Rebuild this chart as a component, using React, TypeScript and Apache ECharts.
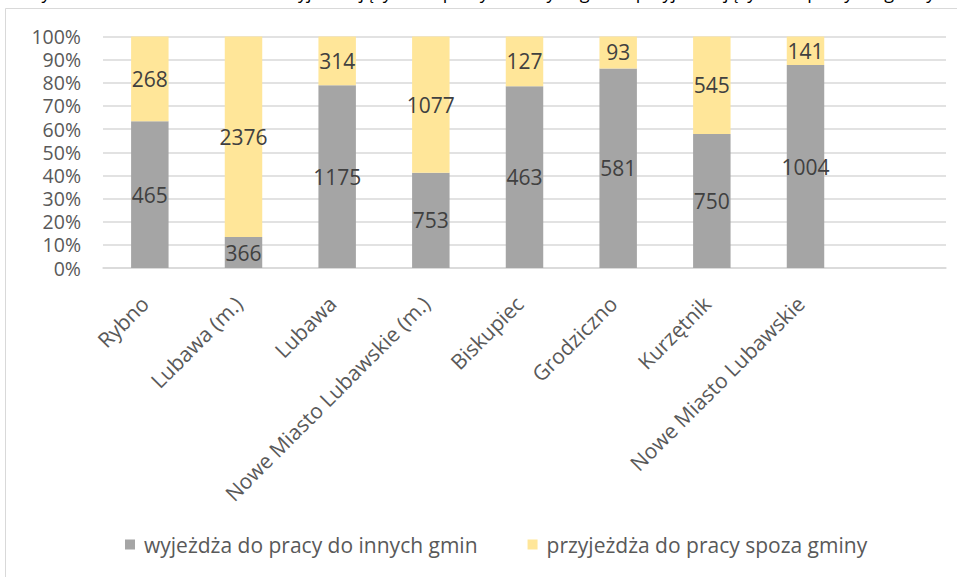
import React, { useEffect, useRef } from "react";
import * as echarts from "echarts";

const categories = [
  "Rybno",
  "Lubawa (m.)",
  "Lubawa",
  "Nowe Miasto Lubawskie (m.)",
  "Biskupiec",
  "Grodziczno",
  "Kurzętnik",
  "Nowe Miasto Lubawskie",
  "",
];
const outgoing = [465, 366, 1175, 753, 463, 581, 750, 1004];
const incoming = [268, 2376, 314, 1077, 127, 93, 545, 141];
const seriesNames = [
  "wyjeżdża do pracy do innych gmin",
  "przyjeżdża do pracy spoza gminy",
];
const yTicks = [0, 10, 20, 30, 40, 50, 60, 70, 80, 90, 100];
const titleText =
  "Wykres 5. Liczba mieszkańców wyjeżdżających do pracy do innych gmin i przyjeżdżających do pracy do gminy";

const FONT = "'Open Sans', sans-serif";

export default function App() {
  const ref = useRef<HTMLDivElement>(null);
  useEffect(() => {
    if (!ref.current) return;
    const chart = echarts.init(ref.current, undefined, { renderer: "svg" });
    const totals = outgoing.map((v, i) => v + incoming[i]);
    const outPct = outgoing.map((v, i) => (v / totals[i]) * 100);
    const inPct = incoming.map((v, i) => (v / totals[i]) * 100);
    const labelStyle = (raw: number[]) => ({
      show: true,
      position: "inside" as const,
      color: "#404040",
      fontSize: 21,
      fontFamily: FONT,
      formatter: (p: any) => String(raw[p.dataIndex]),
    });
    chart.setOption({
      animation: false,
      backgroundColor: "#ffffff",
      textStyle: { fontFamily: FONT },
      graphic: [
        {
          type: "rect",
          shape: { x: 5.5, y: 8.5, width: 1200, height: 1200 },
          style: { fill: "none", stroke: "#d9d9d9", lineWidth: 1 },
          silent: true,
        },
        {
          type: "text",
          x: 25,
          y: -8,
          style: {
            text: titleText,
            fontSize: 18,
            fontFamily: FONT,
            fill: "#000000",
            verticalAlign: "middle",
          },
        },
      ],
      grid: { left: 103, right: 11, top: 36.5, bottom: 309, containLabel: false },
      legend: {
        left: 120,
        top: 529,
        itemWidth: 10,
        itemHeight: 10,
        itemGap: 50,
        icon: "rect",
        textStyle: { fontSize: 21, color: "#595959", fontFamily: FONT, padding: [0, 0, 0, 4] },
        data: seriesNames,
      },
      xAxis: {
        type: "category",
        data: categories,
        axisLine: { lineStyle: { color: "#d9d9d9", width: 1.5 } },
        axisTick: { show: false },
        axisLabel: {
          rotate: 45,
          interval: 0,
          margin: 27,
          padding: [0, 7, 0, 0],
          fontSize: 21,
          color: "#595959",
          fontFamily: FONT,
        },
      },
      yAxis: {
        type: "value",
        min: 0,
        max: 100,
        interval: 10,
        axisLine: { show: false },
        axisTick: { show: false },
        splitLine: { lineStyle: { color: "#d9d9d9", width: 1.5 } },
        axisLabel: {
          margin: 22,
          fontSize: 19.5,
          lineHeight: 19,
          color: "#595959",
          fontFamily: FONT,
          formatter: (v: number) => (yTicks.includes(v) ? `${v}%` : ""),
        },
      },
      series: [
        {
          name: seriesNames[0],
          type: "bar",
          stack: "total",
          barWidth: "40%",
          itemStyle: { color: "#a5a5a5" },
          label: labelStyle(outgoing),
          data: outPct,
        },
        {
          name: seriesNames[1],
          type: "bar",
          stack: "total",
          barWidth: "40%",
          itemStyle: { color: "#ffe699" },
          label: labelStyle(incoming),
          data: inPct,
        },
      ],
    });
    return () => chart.dispose();
  }, []);
  return (
    <div
      ref={ref}
      style={{ position: "fixed", left: 0, top: 0, width: 957, height: 577 }}
    />
  );
}
